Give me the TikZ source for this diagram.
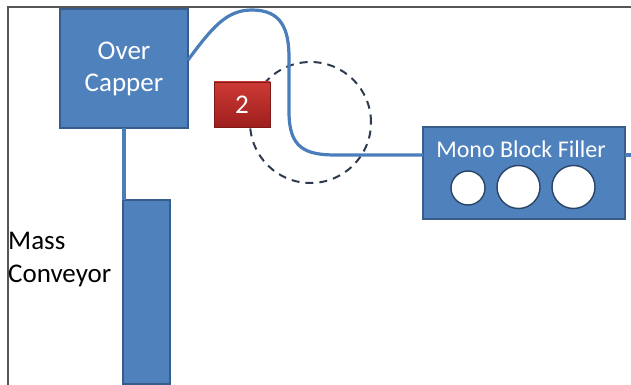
\documentclass[tikz,border=0pt]{standalone}
\usepackage{fontspec}
\setmainfont{Carlito}
\usetikzlibrary{calc}
\definecolor{boxblue}{HTML}{4F81BD}
\definecolor{boxedge}{HTML}{385D8A}
\definecolor{lineblue}{HTML}{4A7EBB}
\definecolor{frame}{HTML}{555555}
\definecolor{dashgray}{HTML}{2E3B4E}
\definecolor{badgetop}{HTML}{CD3A34}
\definecolor{badgebot}{HTML}{9E1F1E}
\definecolor{holeedge}{HTML}{2A4466}
\tikzset{
  machine/.style={draw=boxedge, line width=1.4pt, fill=boxblue, inner sep=0pt, outer sep=0pt},
  flow/.style={draw=lineblue, line width=3.2pt},
  hole/.style={circle, draw=holeedge, line width=1.4pt, fill=white, inner sep=0pt, outer sep=0pt},
  zonering/.style={circle, draw=dashgray, line width=2pt, dash pattern=on 8pt off 6pt, inner sep=0pt},
  badge/.style={top color=badgetop, bottom color=badgebot, draw=badgebot!80!black, line width=0.4pt,
    inner sep=0pt, outer sep=0pt, text=white, font=\fontsize{27}{30}\selectfont},
}
\begin{document}
\begin{tikzpicture}[x=1pt, y=-1pt]
\useasboundingbox (0,0) rectangle (631,385);

% outer frame (top and left edges only)
\draw[frame, line width=2pt] (8,386) -- (8,7) -- (632,7);

% dashed zone around the curve
\node[zonering, minimum size=121pt] (zone) at (310.5,122.5) {};

% machines
\node[machine, minimum width=128pt, minimum height=119pt, text=white, align=center,
      font=\fontsize{27}{32}\selectfont] (oc) at (124,68.5) {Over\\Capper};
\node[machine, minimum width=47pt, minimum height=184pt] (mc) at (146.5,292) {};
\node[machine, minimum width=202pt, minimum height=92pt] (mbf) at (524,173) {};
\node[text=white, font=\fontsize{24}{26}\selectfont, inner sep=0pt] (mbftext) at (521,149) {Mono Block Filler};
\node[hole, minimum size=34pt] (h1) at (468,188) {};
\node[hole, minimum size=43pt] (h2) at (518.5,187) {};
\node[hole, minimum size=43pt] (h3) at (573.5,187) {};

% conveyor label
\node[anchor=west, align=left, inner sep=0pt, font=\fontsize{27}{33}\selectfont] (mclabel) at (8,260) {Mass\\Conveyor};

% connectors
\coordinate (ocout) at ([yshift=8.5pt]oc.east);
\coordinate (edge) at (632,155);
\draw[flow] (oc.south) -- (oc.south |- mc.north);
\draw[flow] (ocout) .. controls (212,28) and (226,10) .. (252,10)
  .. controls (282,10) and (289,30) .. (289,58)
  -- (289,112) .. controls (289,148) and (305,155) .. (336,155)
  -- (mbf.west |- 0,155);
\draw[flow] (mbf.east |- 0,155) -- (edge);

% numbered badge
\node[badge, minimum width=56pt, minimum height=45pt] (b2) at (242,104.5) {2};
\end{tikzpicture}
\end{document}
